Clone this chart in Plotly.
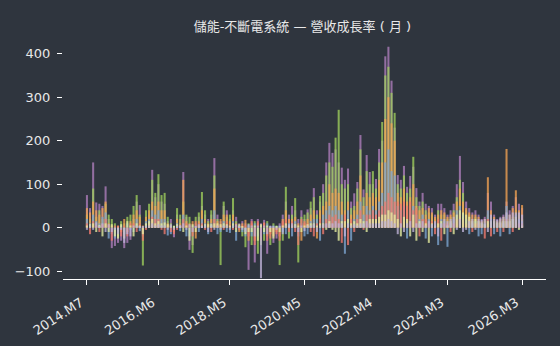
import plotly.graph_objects as go

# Months from 2014.M7 to 2026.M3
months = []
y, m = 2014, 7
while (y, m) <= (2026, 3):
    months.append(f"{y}.M{m}")
    m += 1
    if m > 12:
        y, m = y + 1, 1

tick_labels = ["2014.M7", "2016.M6", "2018.M5", "2020.M5", "2022.M4", "2024.M3", "2026.M3"]

co_a = [75, 45, 150, 58, 55, 50, 95, 20, -47, -42,
        -35, -30, -47, -35, -28, 20, 60, 52, -20, 10,
        30, 133, 70, 100, 60, 55, 15, 20, -22, 30,
        20, 128, 25, -51, -40, 10, 25, 50, 30, 20,
        30, 160, 30, 15, 50, 40, 20, 40, 25, 10,
        15, 10, -97, 20, -80, 20, 10, 18, -60, 5,
        -35, -25, 10, 30, 60, 30, 50, 40, 20, 40,
        20, 42, 45, 91, 40, 60, 100, 150, 195, 172,
        180, 150, 138, 110, 136, 60, 79, 105, 213, 88,
        167, 128, 100, 112, 181, 200, 394, 416, 338, 230,
        121, 110, 142, 94, 119, 140, 91, 60, 80, 55,
        50, 45, 30, 55, 55, 45, 30, 40, 55, 100,
        165, 105, 60, 45, 35, 40, 30, 20, 25, 80,
        60, 30, 20, 25, 30, 60, 40, 50, 70, 55,
        45]
co_b = [30, 20, 90, 25, 40, 20, 55, 30, 20, 10,
        -20, 15, 10, 25, 30, 50, 75, 30, -87, 40,
        55, 110, 80, 123, 75, 80, 25, 10, 5, 45,
        30, 60, 30, 25, -58, 25, 35, 82, 40, 15,
        40, 120, 20, -86, 60, 25, 30, 68, 15, 5,
        -20, -45, 10, -40, 15, -60, -40, -30, 15, -40,
        10, 5, -86, -30, 94, -25, 30, 68, -80, 25,
        30, 35, 60, 70, 30, 73, 80, 120, 150, 140,
        207, 271, 100, 90, 100, 45, 50, 90, 180, 70,
        130, 100, 130, 90, 150, 243, 350, 370, 310, 264,
        100, 90, 120, 80, 90, 163, 70, 50, 60, 40,
        35, 30, 20, 40, 30, 30, 20, 25, 40, 70,
        110, 80, 40, 30, 20, 25, 15, 10, 15, 30,
        25, 20, 10, 15, 20, 30, 20, 25, 40, 30,
        20]
co_c = [45, 35, 60, 40, 30, 45, 60, 10, 5, -10,
        5, -10, 20, -10, 15, 30, 40, 25, 5, 25,
        40, 60, 50, 60, 40, 40, 10, 5, -10, 20,
        10, 110, 15, 10, 15, -25, 15, 40, 20, 10,
        20, 90, 15, 20, 30, 30, 15, 30, 10, -10,
        10, 18, -30, 10, -30, 10, -30, 10, -20, -15,
        -20, -10, -20, 20, 40, 20, 20, 25, 10, -30,
        10, 20, 30, 40, -25, 40, 50, 60, 100, 80,
        90, 80, 60, 40, 60, 30, 40, 60, 120, 50,
        80, 70, 80, 70, 110, 150, 250, 300, 240, 200,
        80, 70, 90, 60, 70, 100, 50, 40, 45, 30,
        45, 35, 25, 30, 40, 35, 25, 30, 35, 60,
        90, 60, 45, 35, 30, 30, 25, 15, 20, 116,
        40, 25, 15, 20, 25, 181, 30, 45, 86, 40,
        52]
co_d = [20, 10, 30, 15, 10, 25, 35, -25, -15, -25,
        -10, 5, -15, 10, -5, -10, 20, -8, -10, 15,
        20, 40, 30, 40, 20, 20, -18, -15, 3, 10,
        -8, 30, -20, -20, 5, 5, -10, 20, 10, -15,
        10, 40, -15, -10, 15, -10, -12, 15, -30, 3,
        -10, -20, 5, -20, 10, -20, 5, -15, 10, 3,
        5, 3, 5, -10, -15, 10, -20, 15, -20, 10,
        -20, -15, 15, 20, 20, -30, 30, 40, 50, 40,
        50, 40, 30, -60, 40, -30, 20, 30, 60, 30,
        50, 40, 50, 40, 60, 80, 150, 180, 130, 120,
        50, 40, 50, -25, 40, 50, 30, 20, 30, -25,
        20, -20, 10, -40, 20, 15, -44, 10, 20, 40,
        50, 30, 20, -15, 10, 15, -20, -15, 10, 40,
        20, -15, 5, -20, 10, 50, -15, 20, 30, 20,
        15]
co_e = [10, -15, 15, 5, -10, 8, 20, 5, -30, 5,
        3, -20, 5, -20, 10, 10, -10, 10, -30, -5,
        10, 25, 20, 20, -5, -15, 5, -10, -15, -5,
        5, 20, 10, 5, -20, 15, 10, 10, -5, 5,
        -10, 20, 8, 5, -5, 15, 8, -5, 5, -5,
        5, 5, -20, 15, -40, 15, -20, 12, -30, -25,
        -10, -15, -30, 15, 20, -10, 15, -10, -40, 20,
        15, 10, -10, -20, 10, 20, -15, 20, 30, 25,
        30, 20, -35, 30, -40, 20, -10, 20, 40, -5,
        30, 30, 40, 30, 40, 50, 60, 80, 70, 60,
        60, 55, 60, 50, 60, 40, 45, -20, 20, 20,
        10, 15, -15, 20, -30, 10, 10, -10, 10, 20,
        30, 20, 10, 20, -10, 10, 10, 5, -25, 20,
        -20, 10, -10, 10, -10, 20, 10, -10, 20, 10,
        10]
co_f = [5, 8, 10, -10, 6, -20, 10, -10, 8, -20,
        -25, 8, -25, 15, 5, -20, 10, 5, -15, 10,
        15, 20, 10, 15, 10, 12, 8, 5, 2, 8,
        4, -10, 5, -30, 8, -10, 5, 5, 8, 8,
        8, 10, 10, 8, 10, 8, 5, 10, -10, 8,
        3, -15, -10, -10, 5, -30, 8, -10, 5, -10,
        -25, 2, -10, 5, 10, 5, 5, 8, 5, -10,
        5, 8, 10, 10, 5, 10, 10, -5, 15, -5,
        -10, -30, 15, 15, 20, 10, 15, 10, 20, 15,
        -10, 20, 20, 20, 25, 30, 30, 40, 35, 30,
        20, -20, 25, 20, -20, 30, -30, 15, -10, 10,
        -35, 10, 5, 10, 15, -15, 5, 15, -15, 30,
        40, 35, 30, 25, 15, 20, 15, 12, 8, 15,
        15, 15, 12, 12, 15, 15, 15, 20, 25, -5,
        5]
co_g = [-5, 5, -5, 12, 3, 10, -10, 8, -10, -5,
        -15, -5, -35, -15, -20, 5, 5, 3, 3, 5,
        5, 10, 5, 8, 5, 5, -5, 8, -5, 3,
        6, 10, -5, 8, -10, 3, 8, 3, 5, -10,
        5, -5, 5, -5, 5, 5, -5, 5, 8, 2,
        -5, -10, 8, 5, -20, 5, -116, 5, -15, 2,
        3, -5, 3, -15, 5, 8, 10, 5, -10, 5,
        -8, 5, 5, 8, -10, 5, 8, 10, 10, 10,
        15, 10, 10, -20, 10, 5, 8, 5, 10, 10,
        15, 10, 10, 10, 10, 15, 15, 20, 15, 10,
        -15, 10, -10, 10, 15, -10, 10, 10, 15, 5,
        15, 8, 15, -20, 10, 20, 15, 20, 25, -5,
        20, -10, -5, 15, 20, -5, 20, 18, 20, -10,
        30, 20, 18, 22, 25, 35, 30, 35, 35, 35,
        30]

series = [co_a, co_b, co_c, co_d, co_e, co_f, co_g]
names = ["公司A", "公司B", "公司C", "公司D", "公司E", "公司F", "公司G"]
colors = ["#b07fbd", "#9fcf5c", "#f2a253", "#7da6d2", "#f17b6f", "#e6eea0", "#c0b4da"]

fig = go.Figure()
for vals, nm, col in zip(series, names, colors):
    fig.add_trace(go.Bar(x=months, y=vals, name=nm, marker_color=col,
                         marker_line_width=0, opacity=0.78, width=0.66))

bg = "#2f353e"
fig.update_layout(
    width=560, height=346,
    barmode="overlay",
    paper_bgcolor=bg, plot_bgcolor=bg,
    showlegend=False,
    margin=dict(l=63, r=14, t=45, b=67, autoexpand=False),
    font=dict(family="DejaVu Sans, Noto Sans CJK TC, sans-serif", color="#e8e8e8", size=13),
    title=dict(text="儲能-不斷電系統 — 營收成長率 ( 月 )", x=0.54, xanchor="center",
               y=0.925, yanchor="middle",
               font=dict(size=13, color="#e8e8e8",
                         family="DejaVu Sans, Noto Sans CJK TC, sans-serif")),
)
fig.update_xaxes(type="category", range=[-7.7, 147.7], automargin=False,
                 tickmode="array", tickvals=tick_labels, ticktext=tick_labels,
                 tickangle=-33, ticks="outside", ticklen=5, tickcolor="#ffffff",
                 ticklabelstandoff=5, ticklabelshift=-6,
                 showline=True, linecolor="#ffffff", linewidth=1.3,
                 showgrid=False, zeroline=False,
                 tickfont=dict(size=13, color="#e8e8e8"))
fig.update_yaxes(range=[-118, 420], tickvals=[-100, 0, 100, 200, 300, 400],
                 ticktext=["\u2212100", "0", "100", "200", "300", "400"],
                 automargin=False,
                 ticks="outside", ticklen=5, tickcolor="#ffffff",
                 ticklabelstandoff=4,
                 showline=False, showgrid=False, zeroline=False,
                 tickfont=dict(size=13, color="#e8e8e8"))

fig.write_html("out.html")
